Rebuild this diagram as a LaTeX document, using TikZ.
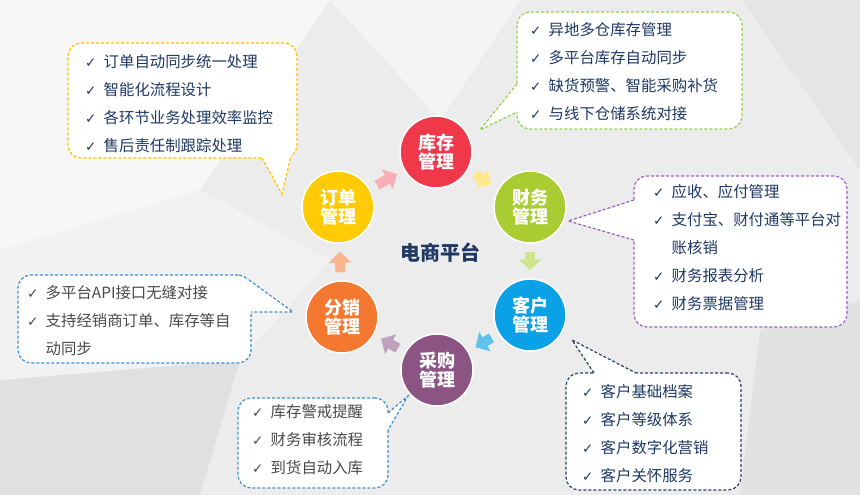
\documentclass[tikz,border=0pt]{standalone}
\usepackage{fontspec}
\setmainfont{Noto Sans CJK SC}
\newfontfamily\symfont{DejaVu Sans}
\usetikzlibrary{arrows.meta,calc,positioning}
\definecolor{bggray}{HTML}{ECECEC}
\definecolor{inkblue}{HTML}{1F3864}
\definecolor{inkgray}{HTML}{4A4A4A}
\definecolor{kucunred}{HTML}{F0384B}
\definecolor{caiwugreen}{HTML}{AACC33}
\definecolor{kehublue}{HTML}{0BA1E6}
\definecolor{caigoupurple}{HTML}{8B5483}
\definecolor{fenxiaoorange}{HTML}{F47830}
\definecolor{dingdanyellow}{HTML}{FFCB05}
\definecolor{golddash}{HTML}{FFC000}
\definecolor{greendash}{HTML}{92D050}
\definecolor{purpledash}{HTML}{9B5FC8}
\definecolor{bluedash}{HTML}{3C8FD3}
\definecolor{navydash}{HTML}{2F3F6A}
\newcommand{\chk}{\makebox[18.5pt][l]{\symfont\fontsize{13.5}{13.5}\selectfont ✓}}
% tail of a callout: box, base point, tip, base point, colour
\newcommand{\notetail}[5]{%
  \fill[white] ($(#2)!4pt!(#1.center)$) -- (#2) -- (#3) -- (#4) -- ($(#4)!4pt!(#1.center)$) -- cycle;
  \draw[tailline=#5] (#2) -- (#3) -- (#4);}

\begin{document}
\begin{tikzpicture}[x=1pt, y=-1pt,
  hub/.style={circle, draw=white, line width=1.5pt, fill=#1, minimum size=72pt, inner sep=0pt,
    text=white, font=\bfseries\fontsize{18}{19}\selectfont, align=center},
  flow/.style={line width=10pt, draw=#1, -{Triangle[length=11pt,width=22pt]}, shorten <=8pt, shorten >=8pt},
  notebox/.style={rectangle, rounded corners=13pt, draw=#1, fill=white, line width=1.2pt,
    dash pattern=on 3pt off 2pt, inner sep=0pt},
  notetext/.style={anchor=west, inner sep=0pt, align=left, text=#1, font=\fontsize{15.4}{28}\selectfont},
  tailline/.style={draw=#1, line width=1.2pt, dash pattern=on 3pt off 2pt}]
  \useasboundingbox (0,0) rectangle (860,495);
  % background facets
  \fill[bggray] (0,0) rectangle (860,495);
  \fill[white!60!bggray] (0,0) -- (330,0) -- (200,190) -- (0,250) -- cycle;
  \fill[white!40!bggray] (330,0) -- (520,0) -- (440,120) -- cycle;
  \fill[black!3!bggray] (742,0) -- (860,0) -- (860,170) -- cycle;
  \fill[black!5!bggray] (0,380) -- (240,360) -- (200,495) -- (0,495) -- cycle;
  \fill[black!4!bggray] (760,330) -- (860,300) -- (860,495) -- (740,495) -- cycle;
  \fill[white!30!bggray] (200,190) -- (330,260) -- (240,360) -- (0,380) -- (0,250) -- cycle;

  % callout boxes
  \node[notebox=golddash, minimum width=229pt, minimum height=115pt] (dd-box) at (182.5,100.5) {};
  \node[notebox=greendash, minimum width=225pt, minimum height=117pt] (kc-box) at (629.5,70.5) {};
  \node[notebox=purpledash, minimum width=213pt, minimum height=151pt] (cw-box) at (740.5,251.5) {};
  \node[notebox=bluedash, minimum width=233pt, minimum height=88pt] (fx-box) at (134.5,319) {};
  \node[notebox=bluedash, minimum width=150pt, minimum height=90pt] (cg-box) at (313,443) {};
  \node[notebox=navydash, minimum width=175pt, minimum height=117pt] (kh-box) at (653.5,431.5) {};
  \notetail{dd-box}{262,158}{282,194}{291,156}{golddash}
  \notetail{kc-box}{517,84}{480,130}{517,112}{greendash}
  \notetail{cw-box}{634,200}{568,221}{634,240}{purpledash}
  \notetail{fx-box}{249,280}{293,312}{251,312}{bluedash}
  \notetail{cg-box}{388,413}{408,396}{388,430}{bluedash}
  \notetail{kh-box}{594,373}{572,340}{636,373}{navydash}

  % callout texts
  \node[notetext=inkblue] (dd-text) at (85,104) {\chk 订单自动同步统一处理\\ \chk 智能化流程设计\\
    \chk 各环节业务处理效率监控\\ \chk 售后责任制跟踪处理};
  \node[notetext=inkblue] (kc-text) at (530,72) {\chk 异地多仓库存管理\\ \chk 多平台库存自动同步\\
    \chk 缺货预警、智能采购补货\\ \chk 与线下仓储系统对接};
  \node[notetext=inkblue] (cw-text) at (653,248) {\chk 应收、应付管理\\ \chk 支付宝、财付通等平台对\\
    \hspace*{18.5pt}账核销\\ \chk 财务报表分析\\ \chk 财务票据管理};
  \node[notetext=inkgray] (fx-text) at (27,321) {\chk 多平台API接口无缝对接\\
    \chk 支持经销商订单、库存等自\\ \hspace*{18.5pt}动同步};
  \node[notetext=inkgray] (cg-text) at (252,440) {\chk 库存警戒提醒\\ \chk 财务审核流程\\ \chk 到货自动入库};
  \node[notetext=inkblue] (kh-text) at (582,434) {\chk 客户基础档案\\ \chk 客户等级体系\\
    \chk 客户数字化营销\\ \chk 客户关怀服务};

  % modules
  \node[hub=kucunred] (kucun) at (436,152) {库存\\管理};
  \node[hub=caiwugreen] (caiwu) at (530,207) {财务\\管理};
  \node[hub=kehublue] (kehu) at (530,315) {客户\\管理};
  \node[hub=caigoupurple] (caigou) at (437,370) {采购\\管理};
  \node[hub=fenxiaoorange] (fenxiao) at (342,317) {分销\\管理};
  \node[hub=dingdanyellow] (dingdan) at (338,207) {订单\\管理};
  \node[font=\bfseries\fontsize{20}{20}\selectfont, text=inkblue] (center) at (440,253) {电商平台};

  \draw[flow=kucunred!40] (dingdan) -- (kucun);
  \draw[flow=dingdanyellow!45] (kucun) -- (caiwu);
  \draw[flow=caiwugreen!55] (caiwu) -- (kehu);
  \draw[flow=kehublue!65] (kehu) -- (caigou);
  \draw[flow=caigoupurple!55] (caigou) -- (fenxiao);
  \draw[flow=fenxiaoorange!55] (fenxiao) -- (dingdan);
\end{tikzpicture}
\end{document}
